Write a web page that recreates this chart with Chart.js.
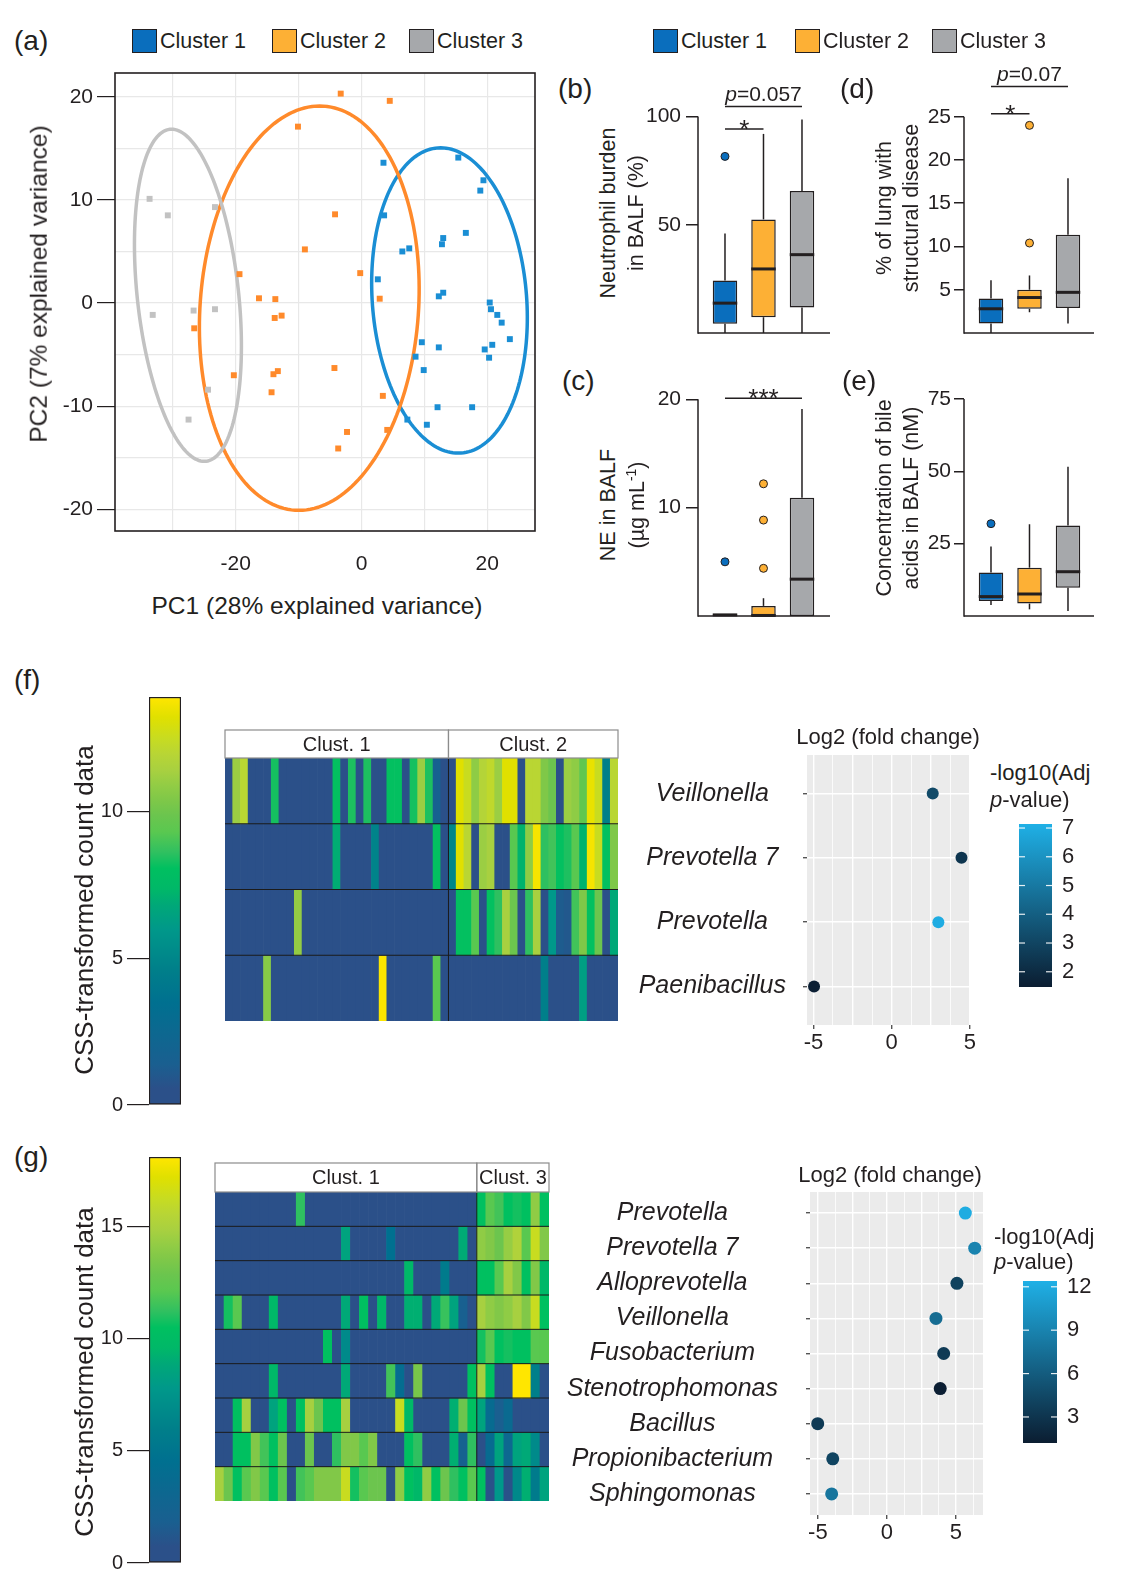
<!DOCTYPE html>
<html>
<head>
<meta charset="utf-8">
<script src="https://cdn.jsdelivr.net/npm/chart.js@4.4.0/dist/chart.umd.min.js"></script>
<style>
  body { margin: 0; background: #fff; }
  #page { position: relative; width: 1133px; height: 1590px; overflow: hidden;
          font-family: 'Liberation Sans', Arial, sans-serif; color: #231f20; }
  canvas { position: absolute; }
  .t { position: absolute; white-space: nowrap; line-height: 1; }
  .t sup { font-size: 65%; vertical-align: 0.55em; }
</style>
</head>
<body>
<div id="page"></div>
<script>
// ---------- data ----------
const clusterNames = ['Cluster 1', 'Cluster 2', 'Cluster 3'];
const clusterFill = ['#0a6ebd', '#fdb035', '#a6a8ab'];
const pcaColors = ['#1a8ed4', '#ff8a2b', '#c2c2c2'];

// (a) PCA scores
const pc1Cluster1 = [3.5, 15.4, 19.4, 18.9, 3.6, 13.0, 12.8, 16.6, 6.5, 7.6, 2.6, 13.0, 12.3, 20.4, 20.6, 21.6, 22.3, 23.6, 9.6, 12.3, 8.6, 19.6, 20.8, 20.3, 9.9, 12.1, 17.6, 7.3, 10.4];
const pc2Cluster1 = [13.6, 14.1, 11.9, 10.9, 8.5, 6.3, 5.7, 6.8, 5.0, 5.3, 2.3, 1.0, 0.65, 0.05, -0.6, -1.15, -1.9, -3.5, -3.8, -4.3, -5.2, -4.5, -4.05, -5.3, -6.5, -10.1, -10.1, -11.3, -11.8];
const pc1Cluster2 = [-3.3, 4.5, -10.1, -4.2, -9.0, -19.4, -0.2, -16.3, -13.7, 2.9, -26.6, -13.8, -12.7, -20.3, -14.0, -13.3, -4.3, -14.3, 3.4, -2.3, -3.7, 4.1];
const pc2Cluster2 = [20.3, 19.6, 17.1, 8.6, 5.2, 2.8, 2.9, 0.46, 0.38, 0.42, -2.45, -1.45, -1.22, -7.0, -6.9, -6.6, -6.3, -8.65, -9.0, -12.5, -14.1, -12.3];
const pc1Cluster3 = [-33.7, -30.8, -23.3, -33.2, -26.7, -23.3, -24.4, -27.5];
const pc2Cluster3 = [10.1, 8.5, 9.3, -1.15, -0.73, -0.6, -8.4, -11.3];
// confidence ellipses: centre, major and minor half-axis vectors
const ellipseCentre = [[14.0, 0.25], [-8.3, -0.5], [-27.6, 0.75]];
const ellipseMajor = [[-1.4, 14.8], [1.65, 19.6], [-2.6, 16.1]];
const ellipseMinor = [[12.3, 0], [17.4, 0], [8.1, 0]];
const pcaXTicks = [-30, -20, -10, 0, 10, 20];
const pcaYTicks = [-20, -15, -10, -5, 0, 5, 10, 15, 20];

// (b) neutrophil burden in BALF (%)
const neutroQ1 = [4.3, 7.3, 11.8], neutroMed = [13.8, 29.6, 36.2], neutroQ3 = [24.3, 52.5, 65.6];
const neutroLo = [0, 0, 0], neutroHi = [46, 92, 98.6];
const neutroOut = [[81.6], [], []];
// (d) % of lung with structural disease
const lungQ1 = [1.1, 2.8, 2.9], lungMed = [2.8, 4.1, 4.7], lungQ3 = [4.0, 5.0, 11.35];
const lungLo = [0, 2.4, 1.1], lungHi = [6.1, 6.65, 17.9];
const lungOut = [[], [24.0, 10.4], []];
// (c) NE in BALF
const neQ1 = [0, 0, 0], neMed = [0.1, 0.05, 3.4], neQ3 = [0.2, 0.93, 10.9];
const neLo = [0, 0, 0], neHi = [0.2, 1.64, 19.1];
const neOut = [[5.0], [12.2, 8.85, 4.4], []];
// (e) bile acids in BALF (nM)
const bileQ1 = [5.2, 4.3, 9.8], bileMed = [6.7, 7.6, 15.3], bileQ3 = [15.0, 16.7, 31.3];
const bileLo = [3.8, 2.3, 1.7], bileHi = [24, 31.7, 51.6];
const bileOut = [[31.9], [], []];
const boxPositions = [1, 2, 3];

// (f) heatmap, CSS-transformed counts, Cluster 1 (29 samples) vs Cluster 2 (22 samples)
const fVeiC1 = [0,11.1,12.0,0,0,0,8.3,0,0,0,0,0,0,0,8.1,0,8.4,0,8.4,0,0,8.1,8.1,0,8.3,11.1,8.4,1.6,0];
const fVeiC2 = [0,13.2,12.5,10.8,11.8,12.2,11.1,13.2,13.2,0,12.0,12.0,10.4,9.9,0,11.1,10.8,9.5,13.4,12.5,4.6,12.0];
const fPr7C1 = [0,0,0,0,0,0,0,0,0,0,0,0,0,0,7.0,0,0,0,0,4.8,0,0,0,0,0,0,0,8.1,0];
const fPr7C2 = [5.0,13.2,12.0,0,11.1,11.4,0,0,9.3,7.2,10.8,13.7,8.6,8.9,8.1,8.4,9.3,7.2,13.7,12.5,8.1,10.4];
const fPrvC1 = [0,0,0,0,0,0,0,0,0,10.9,0,0,0,0,0,0,0,0,0,0,0,0,0,0,0,0,0,0,0];
const fPrvC2 = [0,8.1,8.1,9.3,0,8.1,8.6,11.4,9.9,0,8.6,11.4,0,6.0,1.2,1.0,8.9,10.4,8.1,9.9,0,6.8];
const fPaeC1 = [0,0,0,0,0,10.6,0,0,0,0,0,0,0,0,0,0,0,0,0,0,13.8,0,0,0,0,0,0,9.3,0];
const fPaeC2 = [0,0,0,0,0,0,0,0,0,0,0,0,4.6,0,0,0,0,6.3,0,0,0,0];
const fHeatMax = 13.9;
const fCountTicks = [0, 5, 10];

// (g) heatmap, Cluster 1 (29 samples) vs Cluster 3 (8 samples)
const gPrvC1 = [0,0,0,0,0,0,0,0,0,11.2,0,0,0,0,0,0,0,0,0,0,0,0,0,0,0,0,0,0,0];
const gPrvC3 = [10.5,12.1,11.6,10.5,10.8,10.5,14.1,10.5];
const gPr7C1 = [0,0,0,0,0,0,0,0,0,0,0,0,0,0,8.5,0,0,0,0,4.5,0,0,0,0,0,0,0,9.0,0];
const gPr7C3 = [14.1,13.6,12.9,14.3,15.2,12.1,16.3,13.6];
const gAllC1 = [0,0,0,0,0,0,0,0,0,0,0,0,0,0,0,0,0,0,0,0,0,9.6,0,0,0,5.6,0,0,0];
const gAllC3 = [10.5,10.5,12.1,14.8,13.6,10.5,13.6,9.6];
const gVeiC1 = [0,10.8,12.1,0,0,0,9.6,0,0,0,0,0,0,0,8.9,0,10.5,0,9.6,0,0,9.2,9.2,0,8.9,11.4,8.5,2.0,0];
const gVeiC3 = [14.8,14.1,13.6,14.1,14.8,13.6,16.3,10.5];
const gFusC1 = [0,0,0,0,0,0,0,0,0,0,0,0,10.5,0,6.8,0,0,0,0,0,0,0,0,0,0,0,0,0,0];
const gFusC3 = [10.8,12.1,10.5,10.8,10.5,10.5,12.1,12.1];
const gSteC1 = [0,0,0,0,0,0,9.6,0,0,0,0,0,0,0,8.9,0,0,0,0,11.6,4.0,0,13.3,0,0,0,0,0,10.5];
const gSteC3 = [14.8,10.5,0,0,18.1,18.1,6.0,0];
const gBacC1 = [0,0,10.5,14.8,0,0,8.5,10.5,0,10.5,14.8,12.9,10.5,10.5,14.8,0,0,0,0,0,16.3,9.6,0,0,0,0,9.2,12.9,10.5];
const gBacC3 = [8.5,3.8,1.8,3.5,0,0,0,0];
const gProC1 = [0,0,10.5,10.5,13.6,11.6,10.5,12.9,0,0,12.9,0,0,11.2,13.6,13.6,12.1,13.6,0,0,0,10.5,11.2,0,0,0,9.2,2.2,11.2];
const gProC3 = [0.5,3.8,8.5,3.2,8.5,8.9,6.8,0];
const gSphC1 = [14.8,12.9,10.5,12.1,13.6,12.1,10.5,12.1,0,11.6,12.1,13.6,13.6,13.6,16.3,10.8,12.1,12.9,12.9,0,14.1,10.5,9.6,14.1,10.5,12.9,11.2,10.5,12.1];
const gSphC3 = [10.5,0.8,7.8,0.8,6.6,9.2,5.6,8.5];
const gHeatMax = 18.1;
const gCountTicks = [0, 5, 10, 15];

// (f) differential abundance, Cluster 2 vs Cluster 1
const fGenera = ['Veillonella', 'Prevotella 7', 'Prevotella', 'Paenibacillus'];
const fLog2FC = [2.63, 4.47, 2.99, -4.96];
const fNegLogP = [3.2, 2.4, 7.0, 1.55];
const fFcTicks = [-5, -3.75, -2.5, -1.25, 0, 1.25, 2.5, 3.75, 5];
const fPTicks = [2, 3, 4, 5, 6, 7];
// (g) differential abundance, Cluster 3 vs Cluster 1
const gGenera = ['Prevotella', 'Prevotella 7', 'Alloprevotella', 'Veillonella', 'Fusobacterium', 'Stenotrophomonas', 'Bacillus', 'Propionibacterium', 'Sphingomonas'];
const gLog2FC = [5.69, 6.37, 5.08, 3.56, 4.12, 3.87, -5.01, -3.92, -4.0];
const gNegLogP = [12.1, 9.0, 4.0, 7.2, 3.4, 1.3, 3.4, 4.2, 7.9];
const gFcTicks = [-5, -3.75, -2.5, -1.25, 0, 1.25, 2.5, 3.75, 5, 6.25];
const gPTicks = [3, 6, 9, 12];

// ---------- helpers ----------
const ink = '#231f20';
const fam = "'Liberation Sans', Arial, sans-serif";
Chart.defaults.font.family = fam;
Chart.defaults.color = ink;
Chart.defaults.animation = false;
Chart.defaults.plugins.legend.display = false;
Chart.defaults.plugins.tooltip.enabled = false;

const heatStops = [[0, '#2b5089'], [0.04, '#2b5089'], [0.1, '#1a5f90'], [0.25, '#007090'], [0.33, '#007f8a'],
  [0.43, '#00988a'], [0.49, '#00a878'], [0.53, '#00b868'], [0.58, '#00c060'], [0.62, '#30c060'], [0.67, '#5ac850'],
  [0.71, '#6bc54e'], [0.75, '#80c848'], [0.78, '#90cc45'], [0.82, '#a8d040'], [0.86, '#b8d535'], [0.9, '#c8dc20'],
  [0.95, '#e0e000'], [1, '#ffe600']];
const blueStops = [[0, '#0b1d31'], [1, '#1fb0e6']];

function hex(c) { return [1, 3, 5].map(i => parseInt(c.slice(i, i + 2), 16)); }
function rampColor(stops, f) {
  f = Math.max(0, Math.min(1, f));
  for (let i = 1; i < stops.length; i++) {
    if (f <= stops[i][0]) {
      const [f0, c0] = stops[i - 1], [f1, c1] = stops[i];
      const t = f1 === f0 ? 0 : (f - f0) / (f1 - f0);
      const a = hex(c0), b = hex(c1);
      return 'rgb(' + a.map((v, k) => Math.round(v + (b[k] - v) * t)).join(',') + ')';
    }
  }
  return stops[stops.length - 1][1];
}

const page = document.getElementById('page');
function addCanvas(x, y, w, h) {
  const c = document.createElement('canvas');
  c.width = w; c.height = h;
  c.style.left = x + 'px'; c.style.top = y + 'px';
  c.style.width = w + 'px'; c.style.height = h + 'px';
  page.appendChild(c);
  return c;
}
function text(html, x, y, size, mode) {
  const d = document.createElement('div');
  d.className = 't';
  d.innerHTML = html;
  d.style.left = x + 'px'; d.style.top = y + 'px'; d.style.fontSize = size + 'px';
  d.style.transform = mode === 'c' ? 'translate(-50%,-50%)' : mode === 'v' ? 'translate(-50%,-50%) rotate(-90deg)' : 'translate(0,-50%)';
  page.appendChild(d);
}
function swatch(x, y, color) {
  const d = document.createElement('div');
  d.style.cssText = `position:absolute;left:${x}px;top:${y}px;width:25px;height:24px;box-sizing:border-box;border:1.5px solid ${ink};background:${color}`;
  page.appendChild(d);
}
function seg(ctx, x1, y1, x2, y2) { ctx.beginPath(); ctx.moveTo(x1, y1); ctx.lineTo(x2, y2); ctx.stroke(); }
function noPad(s) { s.paddingTop = 0; s.paddingBottom = 0; s.paddingLeft = 0; s.paddingRight = 0; }

// ---------- (a) PCA ----------
const pcaDecor = {
  id: 'pcaDecor',
  beforeDatasetsDraw(chart) {
    const {ctx, scales: {x, y}} = chart;
    ctx.save();
    ctx.lineWidth = 3.5;
    ellipseCentre.forEach((c, k) => {
      ctx.strokeStyle = pcaColors[k];
      ctx.beginPath();
      for (let i = 0; i <= 180; i++) {
        const t = i / 180 * Math.PI * 2;
        const px = x.getPixelForValue(c[0] + ellipseMajor[k][0] * Math.cos(t) + ellipseMinor[k][0] * Math.sin(t));
        const py = y.getPixelForValue(c[1] + ellipseMajor[k][1] * Math.cos(t) + ellipseMinor[k][1] * Math.sin(t));
        i ? ctx.lineTo(px, py) : ctx.moveTo(px, py);
      }
      ctx.closePath();
      ctx.stroke();
    });
    ctx.restore();
  },
  afterDraw(chart) {
    const {ctx, chartArea: a} = chart;
    ctx.save();
    ctx.strokeStyle = ink; ctx.lineWidth = 1.6;
    ctx.strokeRect(a.left, a.top, a.right - a.left, a.bottom - a.top);
    ctx.restore();
  }
};
const pcaX = [pc1Cluster1, pc1Cluster2, pc1Cluster3], pcaY = [pc2Cluster1, pc2Cluster2, pc2Cluster3];
new Chart(addCanvas(35, 59, 506, 512), {
  type: 'scatter',
  data: {
    datasets: clusterNames.map((name, c) => ({
      label: name,
      data: pcaX[c].map((v, i) => ({x: v, y: pcaY[c][i]})),
      pointStyle: 'rect', pointRadius: 4.2, backgroundColor: pcaColors[c], borderWidth: 0
    }))
  },
  options: {
    responsive: false,
    layout: {padding: {top: 14, right: 6, left: 0, bottom: 0}},
    scales: {
      x: {
        min: -39.2, max: 27.6,
        afterBuildTicks: s => { s.ticks = pcaXTicks.map(v => ({value: v})); },
        afterFit: s => { s.height = 40; noPad(s); },
        border: {display: false},
        grid: {color: '#e8e8e8', lineWidth: 1.2, tickLength: 18, tickColor: 'rgba(0,0,0,0)'},
        ticks: {callback: v => (v % 20 === 0 ? v : ''), font: {size: 21}, padding: 3, autoSkip: false, maxRotation: 0}
      },
      y: {
        min: -22.1, max: 22.3,
        afterBuildTicks: s => { s.ticks = pcaYTicks.map(v => ({value: v})); },
        afterFit: s => { s.width = 80; noPad(s); },
        border: {display: false},
        grid: {color: '#e8e8e8', lineWidth: 1.2, tickLength: 18, tickColor: c => (c.tick && c.tick.value % 10 === 0 ? ink : 'rgba(0,0,0,0)')},
        ticks: {callback: v => (v % 10 === 0 ? v : ''), font: {size: 21}, padding: 4, autoSkip: false}
      }
    }
  },
  plugins: [pcaDecor]
});

// ---------- boxplots ----------
const boxDecor = {
  id: 'boxDecor',
  afterDatasetsDraw(chart, args, o) {
    const {ctx, chartArea: a, scales: {x, y}} = chart;
    const bars = chart.getDatasetMeta(0).data;
    ctx.save();
    ctx.strokeStyle = ink; ctx.fillStyle = ink;
    ctx.lineWidth = 1.5;
    const y0 = y.getPixelForValue(0);
    seg(ctx, a.left, y0 + 0.75, a.left, y.getPixelForValue(o.ticks[o.ticks.length - 1]));
    seg(ctx, a.left, y0, a.right, y0);
    o.q1.forEach((q, i) => {
      const px = x.getPixelForValue(boxPositions[i]), hw = bars[i].width / 2;
      ctx.lineWidth = 1.5;
      seg(ctx, px, y.getPixelForValue(o.q3[i]), px, y.getPixelForValue(o.hi[i]));
      seg(ctx, px, y.getPixelForValue(q), px, y.getPixelForValue(o.lo[i]));
      ctx.lineWidth = 3;
      const pm = y.getPixelForValue(o.med[i]);
      seg(ctx, px - hw, pm, px + hw, pm);
    });
    (o.sig || []).forEach(s => {
      const x1 = x.getPixelForValue(s.a), x2 = x.getPixelForValue(s.b), py = y.getPixelForValue(s.y);
      ctx.lineWidth = 1.5;
      seg(ctx, x1, py, x2, py);
      const mid = (x1 + x2) / 2;
      ctx.textBaseline = 'alphabetic';
      if (s.text.startsWith('p')) {
        ctx.font = 'italic 21px ' + fam; const w1 = ctx.measureText('p').width;
        ctx.font = '21px ' + fam; const rest = s.text.slice(1), w2 = ctx.measureText(rest).width;
        const sx = mid - (w1 + w2) / 2;
        ctx.textAlign = 'left';
        ctx.font = 'italic 21px ' + fam; ctx.fillText('p', sx, py - 5);
        ctx.font = '21px ' + fam; ctx.fillText(rest, sx + w1, py - 5);
      } else {
        ctx.font = '26px ' + fam; ctx.textAlign = 'center';
        ctx.fillText(s.text, mid, py + 9);
      }
    });
    ctx.restore();
  }
};
function makeBox(b) {
  const yw = 70, pt = 24, pb = 10, pr = 12, unitPx = 38.5, xMin = 0.299;
  const outPts = [], outCols = [];
  b.out.forEach((list, i) => list.forEach(v => { outPts.push({x: boxPositions[i], y: v}); outCols.push(clusterFill[i]); }));
  new Chart(addCanvas(b.L - yw, b.T - pt, b.R - b.L + yw + pr, b.B - b.T + pt + pb), {
    type: 'bar',
    data: {
      datasets: [
        {data: b.q1.map((q, i) => ({x: boxPositions[i], y: [q, b.q3[i]]})), backgroundColor: clusterFill,
         borderColor: ink, borderWidth: 1.5, borderSkipped: false, barPercentage: 0.636, categoryPercentage: 1},
        {type: 'scatter', data: outPts, pointRadius: 4, backgroundColor: outCols, borderColor: ink, borderWidth: 1}
      ]
    },
    options: {
      responsive: false,
      layout: {padding: {top: pt, bottom: pb, right: pr, left: 0}},
      scales: {
        x: {type: 'linear', offset: false, grid: {offset: false}, min: xMin, max: xMin + (b.R - b.L) / unitPx, display: false,
            afterBuildTicks: s => { s.ticks = boxPositions.map(v => ({value: v})); }},
        y: {
          min: 0, max: b.yMax,
          afterBuildTicks: s => { s.ticks = b.ticks.map(v => ({value: v})); },
          afterFit: s => { s.width = yw; noPad(s); },
          border: {display: false},
          grid: {drawOnChartArea: false, tickLength: b.tickLen, color: ink, lineWidth: 1.5},
          ticks: {font: {size: 21}, padding: b.tickPad, autoSkip: false}
        }
      },
      plugins: {boxDecor: {q1: b.q1, med: b.med, q3: b.q3, lo: b.lo, hi: b.hi, ticks: b.ticks, sig: b.sig}}
    },
    plugins: [boxDecor]
  });
}
makeBox({L: 698, R: 830, T: 85, B: 333, yMax: 114.6, ticks: [50, 100], tickLen: 12, tickPad: 5,
  q1: neutroQ1, med: neutroMed, q3: neutroQ3, lo: neutroLo, hi: neutroHi, out: neutroOut,
  sig: [{a: 1, b: 2, y: 94.3, text: '*'}, {a: 1, b: 3, y: 104.7, text: 'p=0.057'}]});
makeBox({L: 964, R: 1094, T: 70, B: 333, yMax: 30.4, ticks: [5, 10, 15, 20, 25], tickLen: 10, tickPad: 3,
  q1: lungQ1, med: lungMed, q3: lungQ3, lo: lungLo, hi: lungHi, out: lungOut,
  sig: [{a: 1, b: 2, y: 25.35, text: '*'}, {a: 1, b: 3, y: 28.5, text: 'p=0.07'}]});
makeBox({L: 698, R: 830, T: 383, B: 616, yMax: 21.5, ticks: [10, 20], tickLen: 12, tickPad: 5,
  q1: neQ1, med: neMed, q3: neQ3, lo: neLo, hi: neHi, out: neOut,
  sig: [{a: 1, b: 3, y: 20.1, text: '***'}]});
makeBox({L: 964, R: 1094, T: 383, B: 616, yMax: 80.5, ticks: [25, 50, 75], tickLen: 10, tickPad: 3,
  q1: bileQ1, med: bileMed, q3: bileQ3, lo: bileLo, hi: bileHi, out: bileOut, sig: []});

// ---------- heatmaps ----------
const heatDecor = {
  id: 'heatDecor',
  afterDraw(chart, args, o) {
    const {ctx, chartArea: a, scales: {x, y}} = chart;
    const n = chart.data.datasets.length;
    ctx.save();
    ctx.strokeStyle = '#1b1b1b'; ctx.lineWidth = 1;
    for (let k = 1; k < n; k++) { const py = y.getPixelForValue(k); seg(ctx, a.left, py, a.right, py); }
    const split = (x.getPixelForValue(o.split - 1) + x.getPixelForValue(o.split)) / 2;
    seg(ctx, split, a.top, split, a.bottom);
    const top = a.top - o.header;
    ctx.fillStyle = '#fff';
    ctx.fillRect(a.left, top, a.right - a.left, o.header);
    ctx.strokeStyle = '#8c8c8c'; ctx.lineWidth = 1.2;
    ctx.strokeRect(a.left, top, split - a.left, o.header);
    ctx.strokeRect(split, top, a.right - split, o.header);
    ctx.fillStyle = ink; ctx.font = '20px ' + fam; ctx.textAlign = 'center'; ctx.textBaseline = 'middle';
    ctx.fillText(o.names[0], (a.left + split) / 2, top + o.header / 2 + 1);
    ctx.fillText(o.names[1], (split + a.right) / 2, top + o.header / 2 + 1);
    ctx.restore();
  }
};
function makeHeat(h) {
  const samples = h.rows[0].map((_, i) => 'S' + (i + 1));
  new Chart(addCanvas(h.L - 5, h.T - h.header - 6, h.R - h.L + 11, h.B - h.T + h.header + 12), {
    type: 'bar',
    data: {
      labels: samples,
      datasets: h.rows.map(r => ({
        data: r.map(() => 1), backgroundColor: r.map(v => rampColor(heatStops, v / h.max)),
        borderWidth: 0, barPercentage: 1, categoryPercentage: 1
      }))
    },
    options: {
      responsive: false,
      layout: {padding: {left: 5, right: 6, top: h.header + 6, bottom: 6}},
      scales: {
        x: {stacked: true, display: false},
        y: {stacked: true, display: false, min: 0, max: h.rows.length, reverse: true}
      },
      plugins: {heatDecor: {split: h.split, header: h.header, names: h.names}}
    },
    plugins: [heatDecor]
  });
}
makeHeat({L: 225, R: 618, T: 758, B: 1021, header: 28, split: fVeiC1.length, names: ['Clust. 1', 'Clust. 2'], max: fHeatMax,
  rows: [fVeiC1.concat(fVeiC2), fPr7C1.concat(fPr7C2), fPrvC1.concat(fPrvC2), fPaeC1.concat(fPaeC2)]});
makeHeat({L: 215, R: 549, T: 1192, B: 1501, header: 29, split: gPrvC1.length, names: ['Clust. 1', 'Clust. 3'], max: gHeatMax,
  rows: [gPrvC1.concat(gPrvC3), gPr7C1.concat(gPr7C3), gAllC1.concat(gAllC3), gVeiC1.concat(gVeiC3), gFusC1.concat(gFusC3),
         gSteC1.concat(gSteC3), gBacC1.concat(gBacC3), gProC1.concat(gProC3), gSphC1.concat(gSphC3)]});

// ---------- colour bars ----------
const whiteTicks = {
  id: 'whiteTicks',
  afterDatasetsDraw(chart, args, o) {
    const {ctx, chartArea: a, scales: {y}} = chart;
    ctx.save();
    ctx.strokeStyle = 'rgba(255,255,255,0.9)'; ctx.lineWidth = 1.2;
    o.ticks.forEach(v => {
      const py = y.getPixelForValue(v);
      seg(ctx, a.left, py, a.left + 6, py);
      seg(ctx, a.right - 6, py, a.right, py);
    });
    ctx.restore();
  }
};
function makeScaleBar(c) {
  const side = c.side, axisW = 60, pt = 14, pb = 16, pad = 6;
  const left = side === 'left' ? axisW : pad, right = side === 'left' ? pad : axisW;
  new Chart(addCanvas(c.L - left, c.T - pt, c.R - c.L + left + right, c.B - c.T + pt + pb), {
    type: 'bar',
    data: {
      labels: [''],
      datasets: [{
        data: [[c.min, c.max]],
        backgroundColor: ctx => {
          const a = ctx.chart.chartArea;
          if (!a) return c.stops[0][1];
          const g = ctx.chart.ctx.createLinearGradient(0, a.bottom, 0, a.top);
          c.stops.forEach(s => g.addColorStop(s[0], s[1]));
          return g;
        },
        borderColor: c.border ? ink : 'rgba(0,0,0,0)', borderWidth: c.border ? 1.5 : 0, borderSkipped: false,
        barPercentage: 1, categoryPercentage: 1
      }]
    },
    options: {
      responsive: false,
      layout: {padding: side === 'left' ? {top: pt, bottom: pb, right, left: 0} : {top: pt, bottom: pb, left, right: 0}},
      scales: {
        x: {display: false},
        y: {
          position: side, min: c.min, max: c.max,
          afterBuildTicks: s => { s.ticks = c.ticks.map(v => ({value: v})); },
          afterFit: s => { s.width = axisW; noPad(s); },
          border: {display: false},
          grid: {drawOnChartArea: false, drawTicks: c.tickLen > 0, tickLength: c.tickLen, color: ink, lineWidth: 1.2},
          ticks: {padding: c.pad, font: {size: c.fontSize}, autoSkip: false}
        }
      },
      plugins: {whiteTicks: {ticks: c.whiteTicks ? c.ticks : []}}
    },
    plugins: [whiteTicks]
  });
}
makeScaleBar({L: 149, R: 181, T: 697, B: 1105, min: 0, max: fHeatMax, ticks: fCountTicks, side: 'left', stops: heatStops, border: true, tickLen: 22, pad: 4, fontSize: 20});
makeScaleBar({L: 149, R: 181, T: 1157, B: 1563, min: 0, max: gHeatMax, ticks: gCountTicks, side: 'left', stops: heatStops, border: true, tickLen: 22, pad: 4, fontSize: 20});
makeScaleBar({L: 1019, R: 1052, T: 824, B: 987, min: 1.47, max: 7.14, ticks: fPTicks, side: 'right', stops: blueStops, border: false, whiteTicks: true, tickLen: 0, pad: 10, fontSize: 22});
makeScaleBar({L: 1023, R: 1057, T: 1281, B: 1443, min: 1.2, max: 12.4, ticks: gPTicks, side: 'right', stops: blueStops, border: false, whiteTicks: true, tickLen: 0, pad: 10, fontSize: 22});

// ---------- dot plots ----------
const panelBg = {
  id: 'panelBg',
  beforeDraw(chart) {
    const {ctx, chartArea: a} = chart;
    ctx.save(); ctx.fillStyle = '#ebebeb';
    ctx.fillRect(a.left, a.top, a.right - a.left, a.bottom - a.top);
    ctx.restore();
  }
};
function makeDots(d) {
  const yw = d.axisW, pt = 10, xh = 44, pr = 14;
  new Chart(addCanvas(d.L - yw, d.T - pt, d.R - d.L + yw + pr, d.B - d.T + pt + xh), {
    type: 'scatter',
    data: {
      datasets: [{
        data: d.fc.map((v, i) => ({x: v, y: i + 1})),
        backgroundColor: d.p.map(v => rampColor(blueStops, (v - d.pMin) / (d.pMax - d.pMin))),
        pointRadius: d.r, borderWidth: 0
      }]
    },
    options: {
      responsive: false,
      layout: {padding: {top: pt, right: pr, left: 0, bottom: 0}},
      scales: {
        x: {
          min: d.xMin, max: d.xMax,
          afterBuildTicks: s => { s.ticks = d.grid.map(v => ({value: v})); },
          afterFit: s => { s.height = xh; noPad(s); },
          border: {display: false},
          grid: {color: '#ffffff', lineWidth: c => (c.tick && c.tick.value % 2.5 === 0 ? 1.4 : 0.8), tickLength: 4,
                 tickColor: c => (c.tick && c.tick.value % 5 === 0 ? '#555' : 'rgba(0,0,0,0)')},
          ticks: {callback: v => (v % 5 === 0 ? v : ''), font: {size: 22}, padding: 1, autoSkip: false, maxRotation: 0}
        },
        y: {
          min: 0.4, max: d.species.length + 0.6, reverse: true,
          afterBuildTicks: s => { s.ticks = d.species.map((_, i) => ({value: i + 1})); },
          afterFit: s => { s.width = yw; noPad(s); },
          border: {display: false},
          grid: {color: '#ffffff', lineWidth: 1.4, tickLength: 4, tickColor: '#555'},
          ticks: {callback: v => d.species[v - 1], font: {size: 25, style: 'italic'}, crossAlign: 'center', padding: d.pad, autoSkip: false}
        }
      }
    },
    plugins: [panelBg]
  });
}
makeDots({L: 807, R: 969, T: 755, B: 1025, xMin: -5.41, xMax: 4.95, grid: fFcTicks, species: fGenera, fc: fLog2FC,
  p: fNegLogP, pMin: 1.47, pMax: 7.14, r: 6, pad: 17, axisW: 230});
makeDots({L: 810, R: 983, T: 1192, B: 1515, xMin: -5.57, xMax: 6.97, grid: gFcTicks, species: gGenera, fc: gLog2FC,
  p: gNegLogP, pMin: 1.2, pMax: 12.4, r: 6.5, pad: 28, axisW: 300});

// ---------- free text ----------
text('(a)', 14, 41, 28);
[132, 272, 409].forEach((x, i) => { swatch(x, 29, clusterFill[i]); text(clusterNames[i], x + 28, 42, 21.5); });
[653, 795, 932].forEach((x, i) => { swatch(x, 29, clusterFill[i]); text(clusterNames[i], x + 28, 42, 21.5); });
text('PC2 (7% explained variance)', 39, 284, 24.5, 'v');
text('PC1 (28% explained variance)', 317, 606, 24.5, 'c');

text('(b)', 558, 89, 28);
text('(d)', 840, 89, 28);
text('(c)', 562, 381, 28);
text('(e)', 842, 381, 28);
text('Neutrophil burden', 609, 213, 21.5, 'v');
text('in BALF (%)', 637, 213, 21.5, 'v');
text('% of lung with', 885, 208, 21.5, 'v');
text('structural disease', 912, 208, 21.5, 'v');
text('NE in BALF', 609, 505, 21.5, 'v');
text('(µg mL<sup>-1</sup>)', 637, 505, 21.5, 'v');
text('Concentration of bile', 885, 498, 21.5, 'v');
text('acids in BALF (nM)', 912, 498, 21.5, 'v');

text('(f)', 14, 680, 28);
text('(g)', 14, 1157, 28);
text('CSS-transformed count data', 84, 910, 26, 'v');
text('CSS-transformed count data', 84, 1372, 26, 'v');
text('Log2 (fold change)', 888, 737, 22, 'c');
text('Log2 (fold change)', 890, 1175, 22, 'c');
text('-log10(Adj', 990, 773, 22);
text('<i>p</i>-value)', 990, 800, 22);
text('-log10(Adj', 994, 1237, 22);
text('<i>p</i>-value)', 994, 1262, 22);
</script>
</body>
</html>
